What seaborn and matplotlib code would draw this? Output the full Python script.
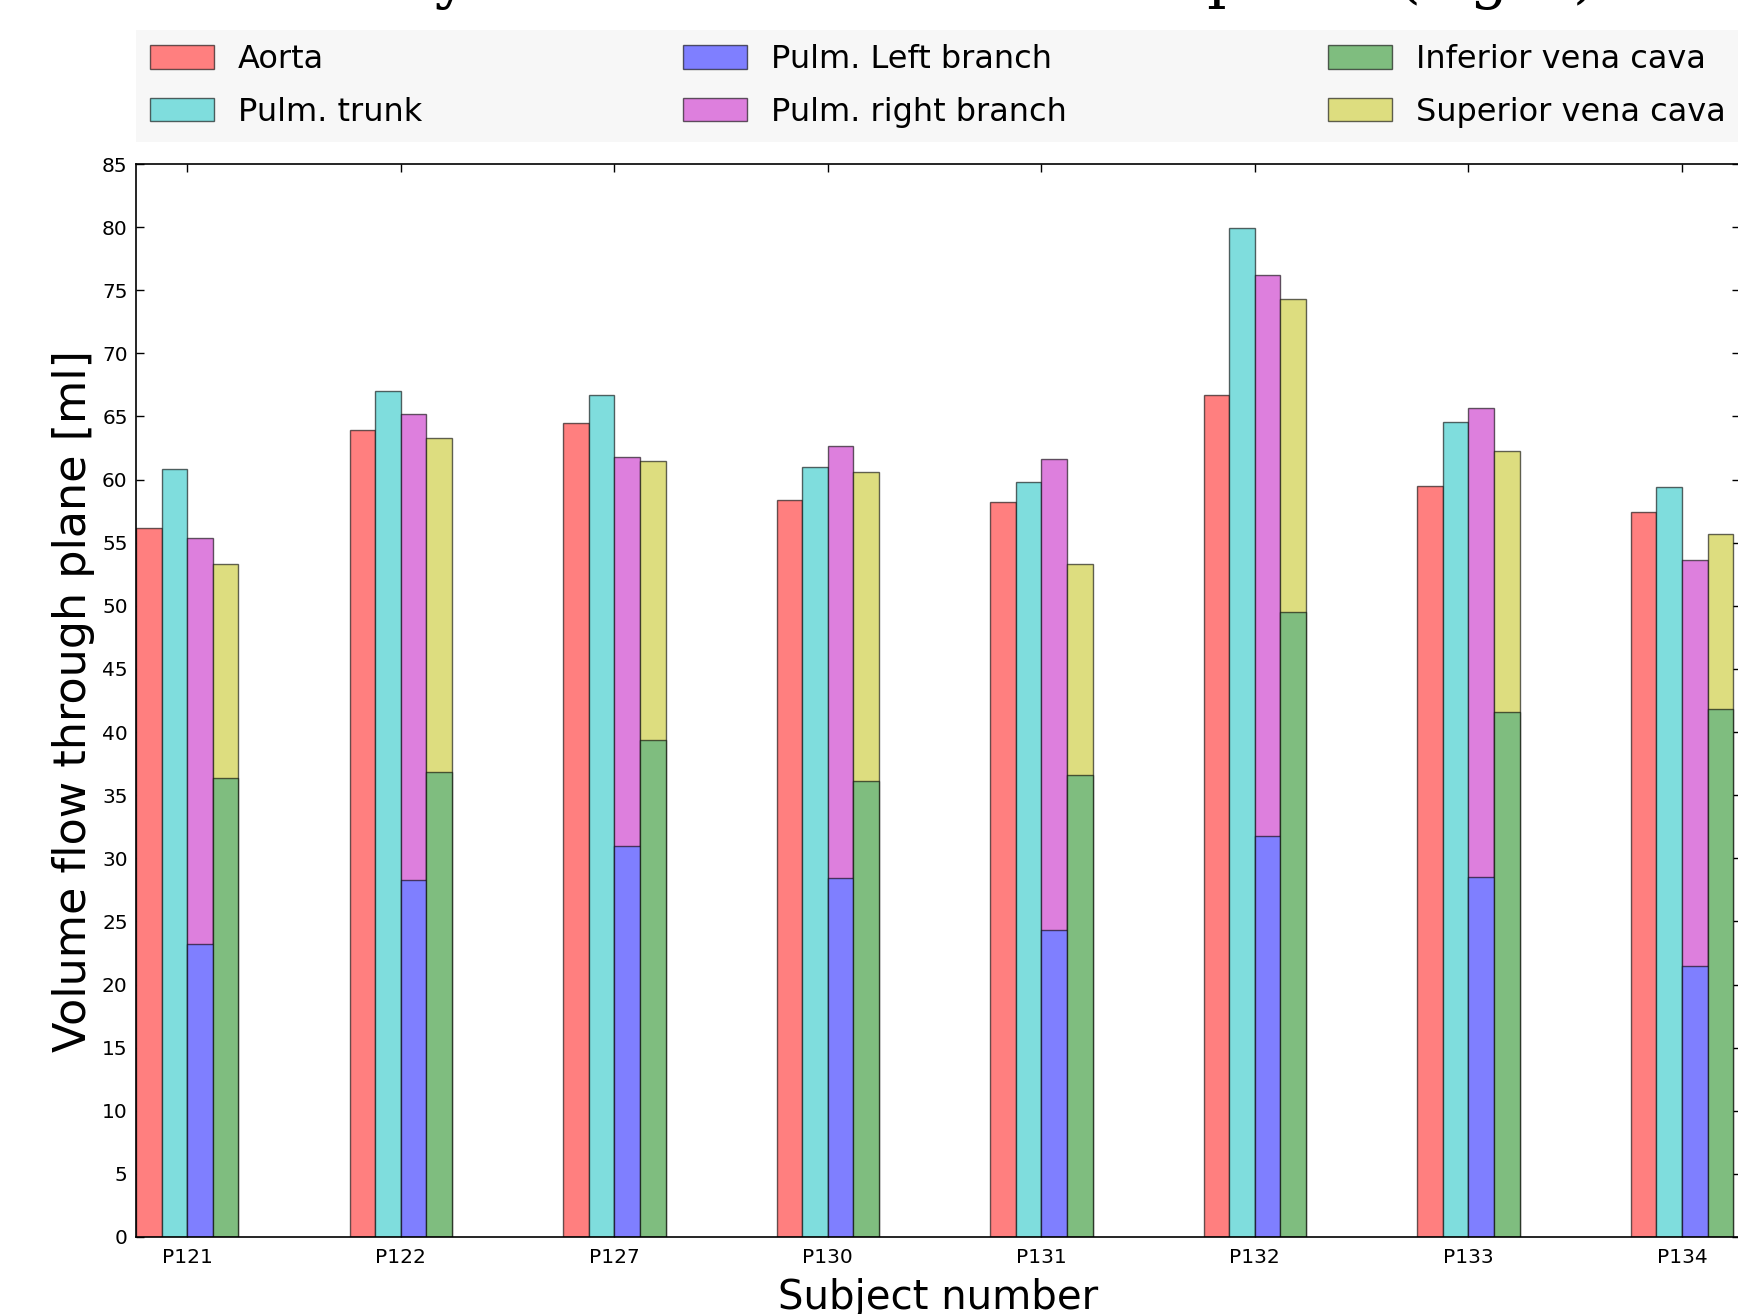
import numpy as np
import pandas as pd
import matplotlib
matplotlib.use("Agg")
import matplotlib.pyplot as plt
from matplotlib.patches import Patch
import seaborn as sns

# Volume flow per subject [ml]
subjects = ["P121", "P122", "P127", "P130", "P131", "P132", "P133", "P134"]
aorta = [56.2, 63.9, 64.5, 58.4, 58.2, 66.7, 59.5, 57.4]
pulm_trunk = [60.8, 67.0, 66.7, 61.0, 59.8, 79.9, 64.6, 59.4]
pulm_left = [23.2, 28.3, 31.0, 28.4, 24.3, 31.8, 28.5, 21.5]
pulm_right = [32.2, 36.9, 30.8, 34.3, 37.3, 44.4, 37.2, 32.1]
ivc = [36.4, 36.8, 39.4, 36.1, 36.6, 49.5, 41.6, 41.8]
svc = [16.9, 26.5, 22.1, 24.5, 16.7, 24.8, 20.7, 13.9]

yticks = list(range(0, 90, 5))

labels = ["Aorta", "Pulm. trunk", "Pulm. Left branch", "Pulm. right branch",
          "Inferior vena cava", "Superior vena cava"]
colors = {
    "Aorta": "#FF7F7F",
    "Pulm. trunk": "#7FDDDD",
    "Pulm. Left branch": "#7F7FFF",
    "Pulm. right branch": "#DD7FDD",
    "Inferior vena cava": "#7FBD7F",
    "Superior vena cava": "#DDDD7F",
}
edge = (0, 0, 0, 0.6)
lw = 1.0

sns.set_style("ticks")
plt.rcParams["font.family"] = ["DejaVu Sans"]
plt.rcParams.update({"text.color": "black", "axes.labelcolor": "black",
                     "xtick.color": "black", "ytick.color": "black"})

W, H = 1738, 1314
fig = plt.figure(figsize=(W / 100, H / 100), dpi=100)
ax_left, ax_right, ax_top, ax_bottom = 136, 1740, 164, 1237
ax = fig.add_axes([ax_left / W, 1 - ax_bottom / H,
                   (ax_right - ax_left) / W, (ax_bottom - ax_top) / H])

# Full-height bars: single vessels and the stacked totals of the two pairs
pulm_total = np.add(pulm_left, pulm_right)
caval_total = np.add(ivc, svc)
outer_order = ["Aorta", "Pulm. trunk", "Pulm. right branch", "Superior vena cava"]
df = pd.DataFrame({
    "subject": subjects * 4,
    "vessel": sum([[v] * len(subjects) for v in outer_order], []),
    "flow": list(aorta) + list(pulm_trunk) + list(pulm_total) + list(caval_total),
})
sns.barplot(data=df, x="subject", y="flow", hue="vessel", order=subjects,
            hue_order=outer_order, palette=[colors[v] for v in outer_order],
            width=0.48, saturation=1, errorbar=None, edgecolor=edge,
            linewidth=lw, legend=False, ax=ax)

# Lower segments of the stacked bars
for cont_idx, values, name in [(2, pulm_left, "Pulm. Left branch"),
                               (3, ivc, "Inferior vena cava")]:
    bars = ax.containers[cont_idx]
    xs, hs = [], []
    for p in bars:
        c = p.get_x() + p.get_width() / 2
        xs.append(p.get_x())
        hs.append(values[int(round(c))])
    ax.bar(xs, hs, width=bars[0].get_width(), align="edge",
           color=colors[name], edgecolor=edge, linewidth=lw)

ax.set_xlim(-0.24, 7.272)
ax.set_ylim(0, 85)
ax.set_yticks(yticks)
ax.tick_params(axis="both", direction="in", length=6, width=1, labelsize=14.5,
               top=True, right=True, bottom=True, left=True, color="black",
               labelcolor="black")
ax.tick_params(axis="x", pad=8)
ax.tick_params(axis="y", pad=6)
for s in ax.spines.values():
    s.set_visible(True)
    s.set_color("black")
    s.set_linewidth(1.2)

ax.set_xlabel("Subject number", fontsize=29, va="baseline", color="black")
ax.xaxis.set_label_coords(0.5, -(1309 - ax_bottom) / (ax_bottom - ax_top))
ax.set_ylabel("Volume flow through plane [ml]", fontsize=32, va="center",
              color="black")
ax.yaxis.set_label_coords(-(ax_left - 74) / (ax_right - ax_left), 0.5)

handles = [Patch(facecolor=colors[l], edgecolor=edge, linewidth=lw, label=l)
           for l in labels]
leg = ax.legend(handles=handles, ncol=3, mode="expand", loc="lower left",
                bbox_to_anchor=(0, (ax_bottom - 142) / (ax_bottom - ax_top), 1.0, 0.1),
                borderaxespad=0, fontsize=23, frameon=True, fancybox=False,
                handlelength=2.0, handleheight=0.75, handletextpad=0.75,
                borderpad=0.45, labelspacing=0.67)
for t in leg.get_texts():
    t.set_color("black")
frame = leg.get_frame()
frame.set_facecolor("#F7F7F7")
frame.set_edgecolor("none")
frame.set_alpha(1)

fig.text(172 / W, 1 + 4 / H, "Summary of volume flow at each plane (right)",
         family="DejaVu Serif", fontsize=44, va="baseline", ha="left",
         color="black")

fig.savefig("out.png", dpi=100)
